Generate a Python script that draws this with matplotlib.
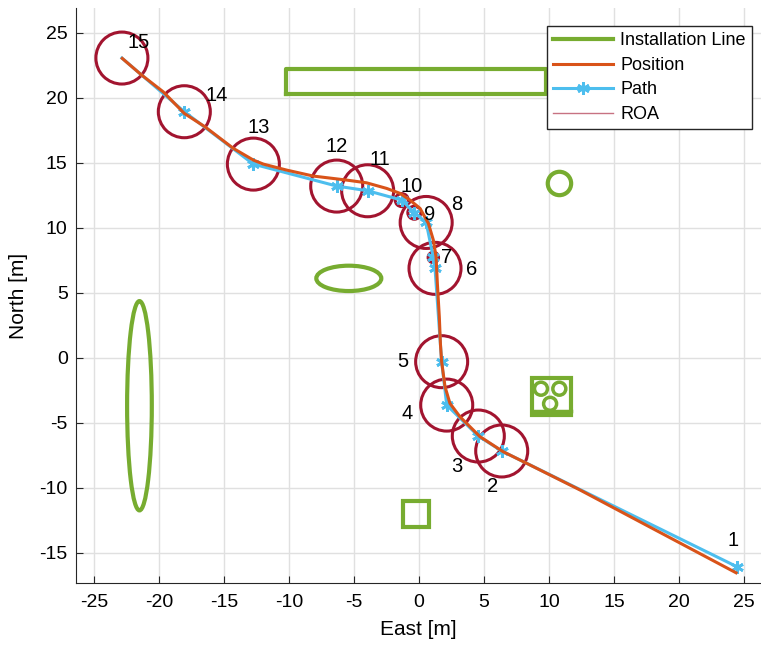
import numpy as np
import matplotlib; matplotlib.use('Agg'); import matplotlib.pyplot as plt
from matplotlib.patches import Circle, Ellipse, Rectangle
from matplotlib.lines import Line2D

plt.rcParams['font.family'] = ['Liberation Sans', 'DejaVu Sans']
plt.rcParams['axes.unicode_minus'] = False

GREEN, ORANGE, BLUE, RED = '#77AC30', '#D95319', '#4DBEEE', '#A2142F'

# waypoints 1..15 (east, north), ROA radius (0 = none drawn), label positions
wp_e = [24.44, 6.36, 4.56, 2.13, 1.74, 1.23, 1.10, 0.55, -0.36, -1.33, -3.95, -6.33, -12.74, -18.05, -22.85]
wp_n = [-16.08, -7.18, -6.03, -3.65, -0.31, 6.87, 7.71, 10.40, 11.15, 12.12, 12.84, 13.20, 14.89, 18.92, 23.05]
roa = [0, 2, 2, 2, 2, 2, 0.4, 2, 0.5, 0.5, 2, 2, 2, 2, 2]
lab_e = [24.15, 5.69, 2.92, -0.92, -1.23, 4.08, 2.15, 2.92, 0.85, -0.54, -3.0, -6.31, -12.31, -15.54, -21.6]
lab_n = [-14.08, -9.95, -8.34, -4.26, -0.26, 6.82, 7.74, 11.82, 11.05, 13.2, 15.28, 16.28, 17.74, 20.2, 24.28]

# vehicle position trace
pos_e = [-22.82, -21.33, -19.67, -18.05, -16.46, -14.28, -12.74, -11.97, -10.18, -8.13, -5.56, -4.03,
         -2.49, -1.46, -0.69, 0.08, 0.72, 1.10, 1.31, 1.41, 1.56, 1.65, 1.74, 2.00, 2.38, 3.15, 4.69,
         6.48, 8.28, 12.38, 24.38]
pos_n = [23.02, 21.74, 20.45, 18.79, 17.76, 16.10, 15.20, 14.89, 14.43, 13.97, 13.66, 13.45,
         13.02, 12.64, 12.12, 11.48, 10.33, 9.05, 7.76, 5.72, 3.15, 1.00, -0.31, -2.24, -3.52, -4.55, -6.08,
         -7.24, -8.13, -10.18, -16.55]

fig = plt.figure(figsize=(7.61, 6.49), dpi=100)
ax = fig.add_axes([76/761, 1-583.3/649, (761-76)/761, (583.3-8)/649])

# obstacles
ax.plot([-10.2, 9.8, 9.8, -10.2, -10.2], [20.3, 20.3, 22.2, 22.2, 20.3], color=GREEN, lw=3, label='Installation Line', zorder=2)
ax.add_patch(Circle((10.8, 13.4), 0.9, fill=False, ec=GREEN, lw=3, zorder=2))
ax.add_patch(Ellipse((-5.4, 6.1), 5.0, 1.95, fill=False, ec=GREEN, lw=3, zorder=2))
ax.add_patch(Ellipse((-21.5, -3.7), 1.9, 16.1, fill=False, ec=GREEN, lw=3, zorder=2))
ax.add_patch(Rectangle((-1.2, -13.0), 2.0, 2.0, fill=False, ec=GREEN, lw=3, zorder=2))
ax.add_patch(Rectangle((8.7, -4.4), 3.0, 2.85, fill=False, ec=GREEN, lw=3, zorder=2))
ax.plot([8.7, 11.7], [-4.1, -4.1], color=GREEN, lw=2.5, zorder=2)
for ce, cn in [(9.38, -2.39), (10.79, -2.39), (10.08, -3.55)]:
    ax.add_patch(Circle((ce, cn), 0.5, fill=False, ec=GREEN, lw=2.5, zorder=2))

# ROA circles and numbers
for e, n, r in zip(wp_e, wp_n, roa):
    if r > 0:
        ax.add_patch(Circle((e, n), r, fill=False, ec=RED, lw=2.2, zorder=3))
for i, (e, n) in enumerate(zip(lab_e, lab_n)):
    ax.text(e, n, str(i+1), fontsize=14.5, ha='center', va='center', zorder=6)

ax.plot(wp_e, wp_n, '-', color=BLUE, lw=2.2, marker=(6, 2, 0), ms=9, mew=2,
        markevery=list(range(14)), label='Path', zorder=4)
ax.plot(pos_e, pos_n, '-', color=ORANGE, lw=2.2, label='Position', zorder=5)

ax.set_xlim(-26.38, 26.3); ax.set_ylim(-17.36, 26.9)
ax.set_xticks(np.arange(-25, 26, 5)); ax.set_yticks(np.arange(-15, 26, 5))
ax.grid(True, color='#e0e0e0', lw=1)
ax.set_axisbelow(True)
ax.tick_params(direction='in', labelsize=14, length=5, color='#262626')
ax.tick_params(axis='x', pad=8)
ax.tick_params(axis='y', pad=6)
for s in ['top', 'right']: ax.spines[s].set_visible(False)
for s in ['bottom', 'left']: ax.spines[s].set_color('#262626')
ax.set_xlabel('East [m]', fontsize=15, labelpad=6)
ax.set_ylabel('North [m]', fontsize=15, labelpad=8)

h = [Line2D([], [], color=GREEN, lw=3),
     Line2D([], [], color=ORANGE, lw=2.2),
     Line2D([], [], color=BLUE, lw=2.2, marker=(6, 2, 0), ms=9, mew=2),
     Line2D([], [], color=RED, lw=1, alpha=0.6)]
leg = ax.legend(h, ['Installation Line', 'Position', 'Path', 'ROA'], loc='upper right',
                bbox_to_anchor=(752/761, 1-26/649), bbox_transform=fig.transFigure,
                fontsize=13, fancybox=False, edgecolor='#262626', framealpha=1,
                handlelength=3.3, handletextpad=0.4, labelspacing=0.42, borderpad=0.35, borderaxespad=0)
leg.get_frame().set_linewidth(1)

fig.savefig('out.png', dpi=100)
